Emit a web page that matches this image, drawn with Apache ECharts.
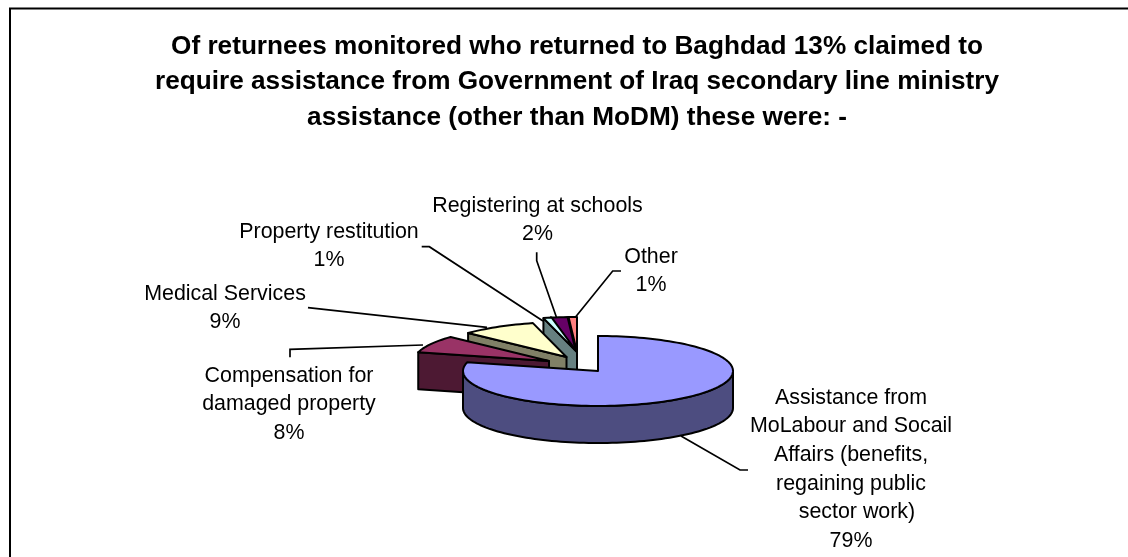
<!DOCTYPE html>
<html>
<head>
<meta charset="utf-8">
<style>html,body{margin:0;padding:0;background:#fff}#chart{width:1128px;height:557px}</style>
<script src="https://cdn.jsdelivr.net/npm/echarts@6/dist/echarts.min.js"></script>
</head>
<body>
<div id="chart"></div>
<script>
// Slice data, clockwise from twelve o'clock
const categories = [
  'Assistance from\nMoLabour and Socail\nAffairs (benefits,\nregaining public\n  sector work)',
  'Compensation for\ndamaged property',
  'Medical Services',
  'Property restitution',
  'Registering at schools',
  'Other'
];
const shares = [79, 8, 9, 1, 2, 1];
const topColors = ['#9999ff', '#993366', '#ffffcc', '#ccffff', '#660066', '#ff8080'];
const wallColors = ['#4d4d80', '#4d1933', '#808066', '#668080', '#330033', '#804040'];

// Shape of the tilted disc and how far each slice is pulled out of it
const disc = { cx: 598, cy: 371, rx: 135, ry: 35, depth: 37 };
const pullOut = [[0, 0], [-49, -10], [-31.5, -14], [-21, -19], [-22, -19], [-21, -19]];

// Label anchors (centre x, first line y) and their leader lines
const labelAnchors = [[851, 398], [289, 376], [225, 294], [329, 232], [537.5, 206], [651, 257]];
const leaders = [
  [[748, 470], [740, 470], [681, 436]],
  [[290, 357.3], [290, 349.3], [423, 345]],
  [[308, 307.7], [487, 327.3]],
  [[421.7, 246.7], [429.3, 246.7], [543, 321]],
  [[536.7, 252.3], [536.7, 260.7], [558, 321.7]],
  [[621, 271], [612.7, 271], [571.7, 321.7]]
];

const total = shares.reduce((a, b) => a + b, 0);
const starts = shares.map((_, i) => shares.slice(0, i).reduce((a, b) => a + b, 0));
// Far slices are painted first, the big slice last
const paintOrder = shares.map((_, i) => i).reverse();

function rimPoint(ox, oy, deg, drop) {
  const a = deg * Math.PI / 180;
  return [ox + disc.rx * Math.sin(a), oy - disc.ry * Math.cos(a) + (drop || 0)];
}
function arc(ox, oy, from, to, drop) {
  const pts = [];
  const n = Math.max(2, Math.ceil((to - from) / 2));
  for (let k = 0; k <= n; k++) pts.push(rimPoint(ox, oy, from + (to - from) * k / n, drop));
  return pts;
}

function renderSlice(params, api) {
  const idx = api.value(0);
  const from = api.value(2) / total * 360;
  const to = (api.value(2) + api.value(1)) / total * 360;
  const ox = disc.cx + pullOut[idx][0];
  const oy = disc.cy + pullOut[idx][1];
  const edge = { stroke: '#000', lineWidth: 2, lineJoin: 'round' };
  const children = [];
  const add = (points, fill) => children.push({
    type: 'polygon', shape: { points }, style: Object.assign({ fill }, edge)
  });
  // Cut face along the starting radius
  const c = rimPoint(ox, oy, from);
  add([[ox, oy], c, [c[0], c[1] + disc.depth], [ox, oy + disc.depth]], wallColors[idx]);
  // Outer wall, only where it faces the viewer
  const wFrom = Math.max(from, 90), wTo = Math.min(to, 270);
  if (wTo > wFrom) {
    add(arc(ox, oy, wFrom, wTo).concat(arc(ox, oy, wFrom, wTo, disc.depth).reverse()), wallColors[idx]);
  }
  // Top face
  add([[ox, oy]].concat(arc(ox, oy, from, to)), topColors[idx]);
  return { type: 'group', children };
}

const labelText = i => categories[i] + '\n' + shares[i] + '%';
const lineGap = 28.6;

const chart = echarts.init(document.getElementById('chart'), null, { renderer: 'canvas' });
chart.setOption({
  animation: false,
  backgroundColor: '#fff',
  title: {
    text: 'Of returnees monitored who returned to Baghdad 13% claimed to\nrequire assistance from Government of Iraq secondary line ministry\nassistance (other than MoDM) these were: -',
    left: 572, top: 24, textAlign: 'center',
    textStyle: { fontFamily: 'Liberation Sans', fontSize: 26.2, fontWeight: 'bold', color: '#000', lineHeight: 35.5 }
  },
  series: [{
    type: 'custom',
    coordinateSystem: 'none',
    silent: true,
    renderItem: renderSlice,
    data: paintOrder.map(i => [i, shares[i], starts[i]])
  }],
  graphic: {
    elements: [
      { type: 'polyline', shape: { points: [[10, 557], [10, 8.5], [1128, 8.5]] }, style: { stroke: '#000', lineWidth: 2, fill: null } }
    ].concat(leaders.map(points => ({
      type: 'polyline', shape: { points }, style: { stroke: '#000', lineWidth: 1.7, fill: null }
    }))).concat(labelAnchors.map((p, i) => ({
      type: 'text', x: p[0], y: p[1] - lineGap / 2,
      style: { text: labelText(i), fill: '#000', font: '21.4px "Liberation Sans"', lineHeight: lineGap, align: 'center', verticalAlign: 'top' }
    })))
  }
});
</script>
</body>
</html>
